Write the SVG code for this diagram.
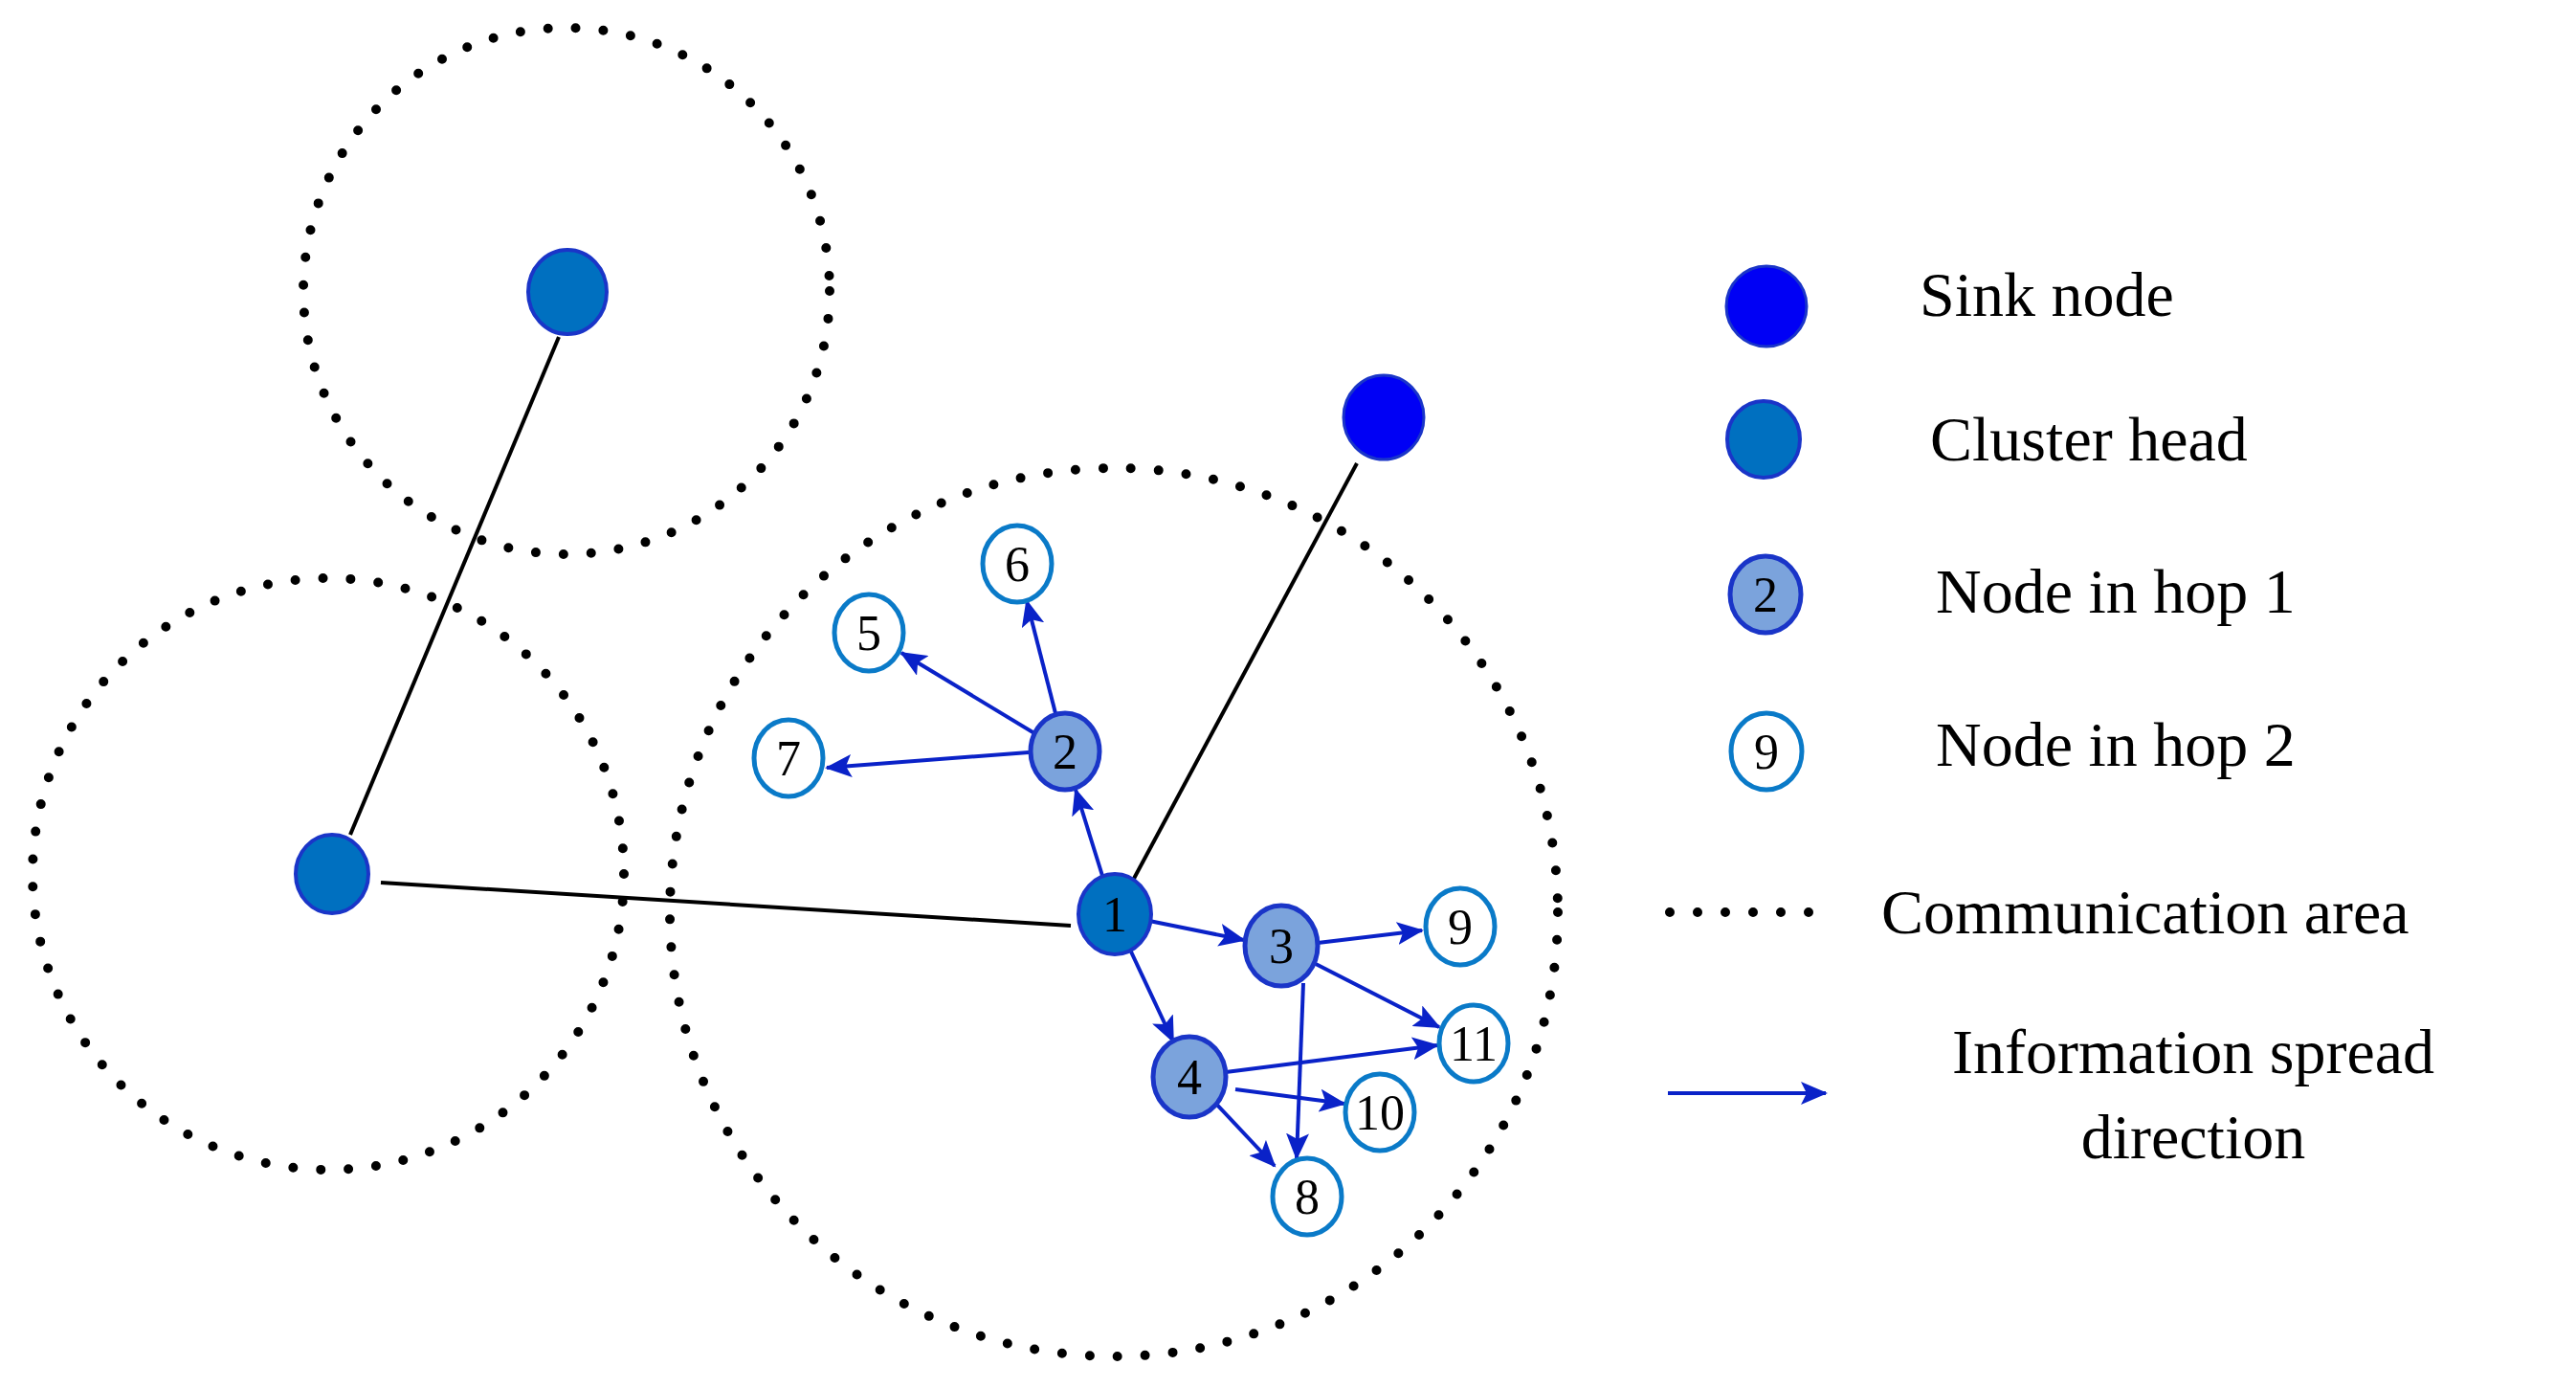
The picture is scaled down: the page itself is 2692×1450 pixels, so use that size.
<svg xmlns="http://www.w3.org/2000/svg" width="2692" height="1450" viewBox="0 0 2692 1450">
<style>
.area{fill:none;stroke:#000;stroke-width:10;stroke-linecap:round;stroke-dasharray:0 29}
.ch{fill:#0070c0;stroke:#1a35c8;stroke-width:4}
.sink{fill:#0000f5;stroke:#1a35c8;stroke-width:3}
.h1{fill:#7ba3dc;stroke:#1a35c8;stroke-width:5}
.h2{fill:#fff;stroke:#0a7ac8;stroke-width:5}
.lnk{stroke:#000;stroke-width:4;fill:none}
.arr{stroke:#0a22c8;stroke-width:4;fill:none;marker-end:url(#ah)}
text{font-family:"Liberation Serif","DejaVu Serif",serif;fill:#000}
.num{font-size:52px;text-anchor:middle}
.lg{font-size:66px}
</style>
<defs>
<marker id="ah" markerUnits="userSpaceOnUse" markerWidth="30" markerHeight="24" refX="26" refY="12" orient="auto">
<path d="M0,0 L28,12 L0,24 L6,12 Z" fill="#0a22c8"/>
</marker>
</defs>
<g id="areas">
<circle class="area" cx="592" cy="304" r="275"/>
<circle class="area" cx="343" cy="913" r="309"/>
<circle class="area" cx="1164" cy="953" r="464"/>
</g>
<g id="connectors">
<line class="lnk" x1="584" y1="352" x2="366" y2="872"/>
<line class="lnk" x1="398" y1="922" x2="1119" y2="967"/>
<line class="lnk" x1="1418" y1="484" x2="1180" y2="927"/>
<line class="arr" x1="1153" y1="918" x2="1124" y2="825"/>
<line class="arr" x1="1201" y1="962" x2="1300" y2="982"/>
<line class="arr" x1="1180" y1="990" x2="1226" y2="1088"/>
<line class="arr" x1="1104" y1="749" x2="1073" y2="628"/>
<line class="arr" x1="1081" y1="766" x2="942" y2="682"/>
<line class="arr" x1="1075" y1="786" x2="864" y2="802"/>
<line class="arr" x1="1377" y1="985" x2="1486" y2="972"/>
<line class="arr" x1="1373" y1="1006" x2="1504" y2="1073"/>
<line class="arr" x1="1362" y1="1027" x2="1355" y2="1210"/>
<line class="arr" x1="1281" y1="1120" x2="1502" y2="1092"/>
<line class="arr" x1="1291" y1="1138" x2="1405" y2="1153"/>
<line class="arr" x1="1270" y1="1152" x2="1332" y2="1218"/>
<line class="arr" x1="1743" y1="1142" x2="1908" y2="1142"/>
</g>
<g id="ch-top"><ellipse class="ch" cx="593" cy="305" rx="41" ry="44"/></g>
<g id="ch-left"><ellipse class="ch" cx="347" cy="913" rx="38" ry="41"/></g>
<g id="sink"><ellipse class="sink" cx="1446" cy="436" rx="42" ry="44"/></g>
<g id="n1"><ellipse class="ch" cx="1165" cy="955" rx="38" ry="42"/><text class="num" x="1165" y="973">1</text></g>
<g id="n2"><ellipse class="h1" cx="1113" cy="785" rx="36" ry="40"/><text class="num" x="1113" y="803">2</text></g>
<g id="n3"><ellipse class="h1" cx="1339" cy="988" rx="38" ry="42"/><text class="num" x="1339" y="1006">3</text></g>
<g id="n4"><ellipse class="h1" cx="1243" cy="1125" rx="38" ry="42"/><text class="num" x="1243" y="1143">4</text></g>
<g id="n5"><ellipse class="h2" cx="908" cy="661" rx="36" ry="40"/><text class="num" x="908" y="679">5</text></g>
<g id="n6"><ellipse class="h2" cx="1063" cy="589" rx="36" ry="40"/><text class="num" x="1063" y="607">6</text></g>
<g id="n7"><ellipse class="h2" cx="824" cy="792" rx="36" ry="40"/><text class="num" x="824" y="810">7</text></g>
<g id="n8"><ellipse class="h2" cx="1366" cy="1250" rx="36" ry="40"/><text class="num" x="1366" y="1268">8</text></g>
<g id="n9"><ellipse class="h2" cx="1526" cy="968" rx="36" ry="40"/><text class="num" x="1526" y="986">9</text></g>
<g id="n10"><ellipse class="h2" cx="1442" cy="1162" rx="36" ry="40"/><text class="num" x="1442" y="1180">10</text></g>
<g id="n11"><ellipse class="h2" cx="1540" cy="1090" rx="36" ry="40"/><text class="num" x="1540" y="1108">11</text></g>
<g id="legend">
<ellipse class="sink" cx="1846" cy="320" rx="42" ry="42"/>
<text class="lg" x="2006" y="330">Sink node</text>
<ellipse class="ch" cx="1843" cy="459" rx="38" ry="40"/>
<text class="lg" x="2017" y="481">Cluster head</text>
<ellipse class="h1" cx="1845" cy="621" rx="37" ry="40"/>
<text class="num" x="1845" y="639">2</text>
<text class="lg" x="2023" y="640">Node in hop 1</text>
<ellipse class="h2" cx="1846" cy="785" rx="37" ry="40"/>
<text class="num" x="1846" y="803">9</text>
<text class="lg" x="2023" y="800">Node in hop 2</text>
<line class="area" x1="1745" y1="953" x2="1915" y2="953"/>
<text class="lg" x="1966" y="975">Communication area</text>
<text class="lg" x="2292" y="1121" text-anchor="middle">Information spread</text>
<text class="lg" x="2292" y="1210" text-anchor="middle">direction</text>
</g>
</svg>
